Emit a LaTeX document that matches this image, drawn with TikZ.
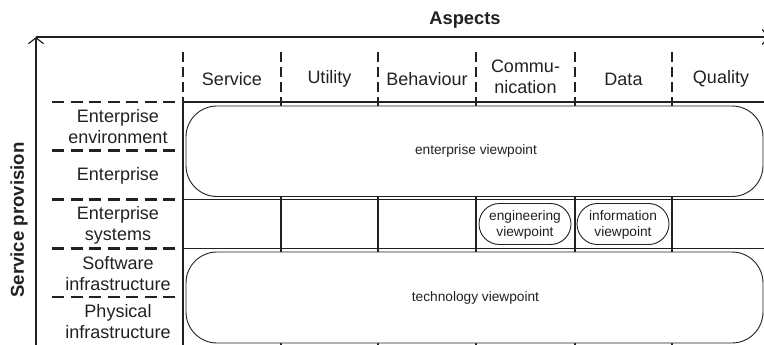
\documentclass[tikz,border=0pt]{standalone}
\usepackage{fontspec}
\setmainfont{Liberation Sans}
\usetikzlibrary{arrows.meta}
\definecolor{ink}{gray}{0.13}
\tikzset{
  big/.style={font=\fontsize{18}{21}\selectfont, text=ink, align=center, inner sep=0pt},
  small/.style={font=\fontsize{13.7}{16}\selectfont, text=ink, align=center, inner sep=0pt},
  axis/.style={draw=ink, line width=1.3pt, -{Straight Barb[length=6pt,width=15pt,line width=1.2pt]}},
  grid/.style={draw=ink, line width=1.5pt},
  hdash/.style={draw=ink, line width=2.8pt, dash pattern=on 12pt off 6.5pt},
  vdash/.style={draw=ink, line width=2.6pt, dash pattern=on 10pt off 5pt},
  vp/.style={draw=ink, line width=0.9pt, fill=white},
}
\begin{document}
\begin{tikzpicture}[x=1pt,y=-1pt]
\useasboundingbox (0,0) rectangle (764,345);
% axes
\coordinate (o) at (36,345);
\coordinate (c) at (36,37);
\coordinate (r) at (769,37);
\draw[axis] (o) -- (c);
\draw[axis] (c) -- (r);
\node[big, font=\fontsize{18.3}{21}\selectfont\bfseries] (aspects) at (465,20.5) {Aspects};
\node[big, font=\fontsize{18.6}{21}\selectfont\bfseries, rotate=90] (sp) at (19,220) {Service provision};
% header dashed verticals and column lines
\foreach \x in {183,281,378,476,575,672}{
  \draw[vdash] (\x,52) -- (\x,106);
  \draw[grid] (\x,102) -- (\x,346);
}
% left dashed horizontals
\foreach \y in {102,150.5,199.5,248.5,297}{
  \draw[hdash] (52,\y) -- (184,\y);
}
% solid horizontals
\foreach \y in {102,199.5,248.5}{
  \draw[grid] (183,\y) -- (770,\y);
}
% viewpoint boxes
\draw[vp, rounded corners=31pt] (186,106) rectangle (763,196.5);
\node[small] (ev) at (476,151) {enterprise viewpoint};
\draw[vp, rounded corners=31pt] (186,252) rectangle (763,343);
\node[small] (tv) at (475.5,298) {technology viewpoint};
\draw[vp, rounded corners=20.5pt] (479,203.5) rectangle (571,244.5);
\node[small] (engv) at (525,224.5) {engineering\\viewpoint};
\draw[vp, rounded corners=20.5pt] (577,203.5) rectangle (669,244.5);
\node[small] (infv) at (623,224.5) {information\\viewpoint};
% header labels
\node[big] (h1) at (232,79) {Service};
\node[big] (h2) at (329.5,79) {Utility};
\node[big] (h3) at (427,79) {Behaviour};
\node[big, align=center] (h4) at (525.5,77) {Commu-\\nication};
\node[big] (h5) at (623.5,79) {Data};
\node[big] (h6) at (721,79) {Quality};
% row labels
\node[big] (r1) at (118,127) {Enterprise\\environment};
\node[big] (r2) at (118,176) {Enterprise};
\node[big] (r3) at (118,225) {Enterprise\\systems};
\node[big] (r4) at (118,274) {Software\\infrastructure};
\node[big] (r5) at (118,322) {Physical\\infrastructure};
\end{tikzpicture}
\end{document}
